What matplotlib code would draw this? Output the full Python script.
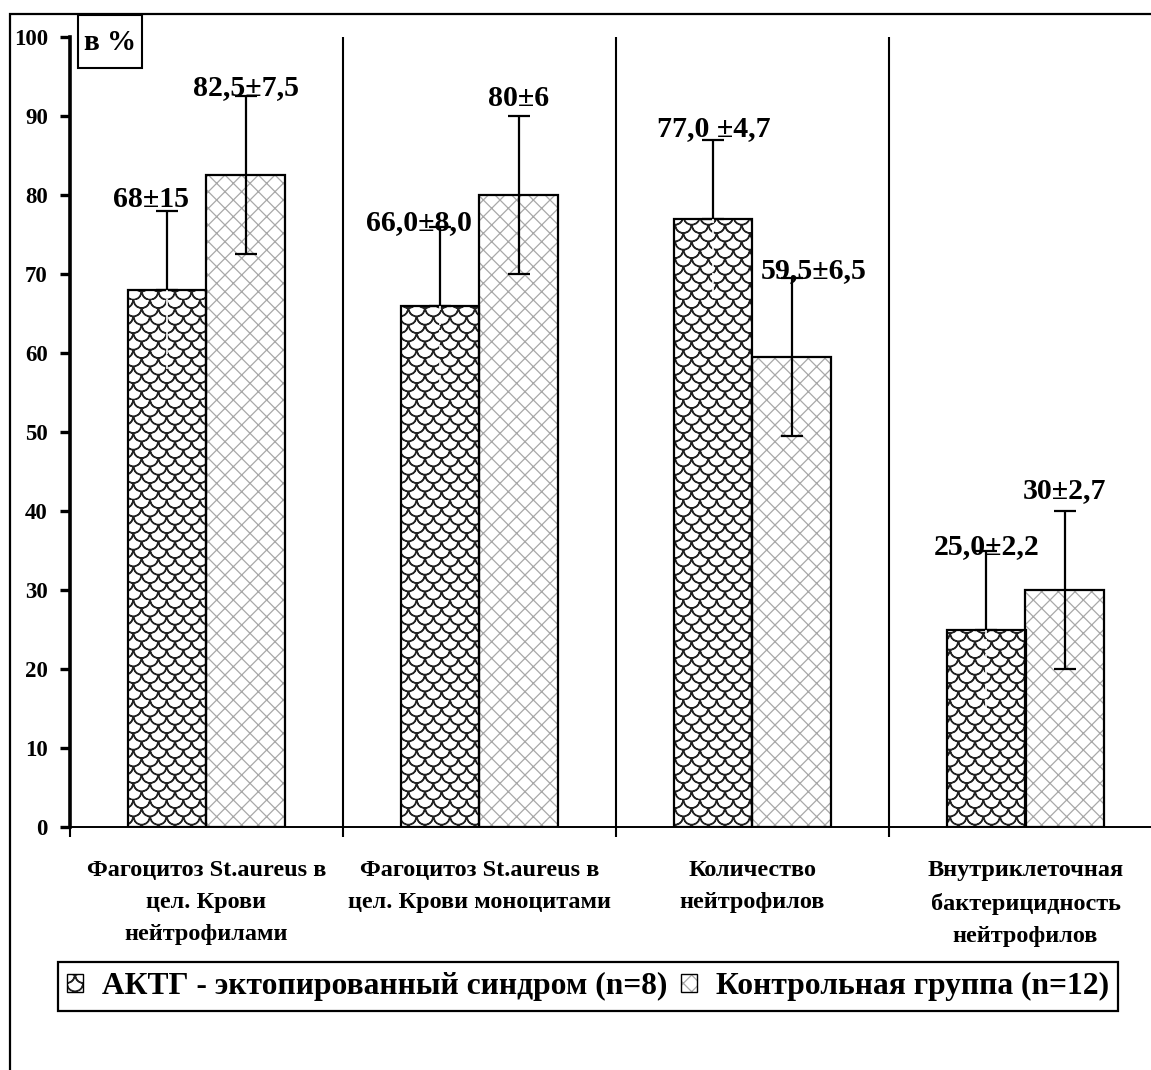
"""Phagocytosis / bactericidity bars: ACTH-ectopic syndrome vs control, values ± error."""
import warnings

import numpy as np
import matplotlib
matplotlib.use("Agg")
import matplotlib.pyplot as plt
from matplotlib import hatch as mhatch
from matplotlib.path import Path
from matplotlib.patches import Patch, Rectangle
from matplotlib.legend_handler import HandlerTuple

warnings.filterwarnings("ignore")

categories = [
    "Фагоцитоз St.aureus в\nцел. Крови\nнейтрофилами",
    "Фагоцитоз St.aureus в\nцел. Крови моноцитами",
    "Количество\nнейтрофилов",
    "Внутриклеточная\nбактерицидность\nнейтрофилов",
]
actg = [68.0, 66.0, 77.0, 25.0]
control = [82.5, 80.0, 59.5, 30.0]
actg_err = [10, 10, 10, 10]
control_err = [10, 10, 10, 10]
actg_labels = ["68±15", "66,0±8,0", "77,0 ±4,7", "25,0±2,2"]
control_labels = ["82,5±7,5", "80±6", "59,5±6,5", "30±2,7"]
series_names = ["АКТГ - эктопированный синдром (n=8)", "Контрольная группа (n=12)"]
yticks = list(range(0, 101, 10))

# label nudges (data units), so the texts sit where the original put them
actg_dx = [-0.06, -0.08, 0.0, 0.0]
actg_dy = [0.5, -0.4, 0.4, -0.5]
ctrl_dx = [0.0, 0.0, 0.08, 0.0]
ctrl_dy = [0.1, 1.3, 0.0, 1.6]

FONT = "Liberation Serif"
plt.rcParams["font.family"] = [FONT, "DejaVu Serif"]
plt.rcParams["font.weight"] = "bold"
plt.rcParams["hatch.linewidth"] = 0.9


class ScaleHatch(mhatch.HatchPatternBase):
    """'c' -> staggered rows of thin arcs, a stand-in for the fish-scale fill.
    Agg fills hatch paths, so each arc is a thin closed band (out on r, back on 0.93r)."""
    def __init__(self, hatch, density):
        self.n = hatch.count("c") * density
        arc = Path.arc(180, 360)
        self.arc_v, self.arc_c = arc.vertices, arc.codes
        self.k = 2 * len(self.arc_v)
        self.num_vertices = 2 * self.n * (self.n + 1) * self.k if self.n else 0

    def set_vertices_and_codes(self, vertices, codes):
        n, k, i = self.n, self.k, 0
        r = 0.5 / n
        band = np.concatenate([self.arc_v, self.arc_v[::-1] * 0.93])
        back = self.arc_c.copy(); back[0] = Path.LINETO
        bcodes = np.concatenate([self.arc_c, back])
        for row in range(2 * n):
            y = (row + 1) / (2 * n)
            shift = r if row % 2 else 0.0
            for col in range(n + 1):
                vertices[i:i + k] = band * r + (col / n + shift, y)
                codes[i:i + k] = bcodes
                i += k


mhatch._hatch_types.append(ScaleHatch)

W, H = 1151, 1070
fig = plt.figure(figsize=(W / 100, H / 100), dpi=100)
ax = fig.add_axes([70 / W, 1 - 827 / H, (W - 70) / W, (827 - 37) / H])

x = np.arange(len(categories))
bw = 0.286
x1, x2 = x - bw / 2, x + bw / 2
GRAY = "#a8a8a8"

ax.bar(x1, actg, bw, color="white", edgecolor="#222222", hatch="c", lw=0, zorder=2)
ax.bar(x1, actg, bw, fill=False, edgecolor="black", lw=1.6, zorder=3)
ax.bar(x2, control, bw, color="white", edgecolor=GRAY, hatch="xx", lw=0, zorder=2)
ax.bar(x2, control, bw, fill=False, edgecolor="black", lw=1.6, zorder=3)

# error bars: upper whisker for the patient group, the lower one shows as a white dash
ax.errorbar(x1, actg, yerr=[np.zeros(4), actg_err], fmt="none", ecolor="black",
            elinewidth=1.6, capsize=8, capthick=1.6, zorder=4)
ax.vlines(x1, np.array(actg) - np.array(actg_err), actg, colors="white",
          linestyles=(0, (6, 3)), lw=1.2, zorder=4)
ax.errorbar(x2, control, yerr=control_err, fmt="none", ecolor="black",
            elinewidth=1.6, capsize=8, capthick=1.6, zorder=4)

for i in range(len(categories)):
    ax.text(x1[i] + actg_dx[i], actg[i] + actg_err[i] + actg_dy[i], actg_labels[i],
            ha="center", va="baseline", fontsize=21.5, fontweight="bold", zorder=5)
    ax.text(x2[i] + ctrl_dx[i], control[i] + control_err[i] + ctrl_dy[i], control_labels[i],
            ha="center", va="baseline", fontsize=21.5, fontweight="bold", zorder=5)

for b in x[:-1] + 0.5:
    ax.axvline(b, color="black", lw=1.5, zorder=1)

ax.set_xlim(-0.5, -0.5 + (W - 70) / 273)
ax.set_ylim(0, 100)
ax.set_yticks(yticks)
ax.set_yticklabels([str(v) for v in yticks], fontsize=16.5, fontweight="bold")
ax.set_xticks(np.r_[-0.5, x[:-1] + 0.5], [""] * 4)
ax.set_xticks(x, categories, minor=True)
ax.tick_params(axis="x", which="major", length=7, width=1.5, direction="out")
ax.tick_params(axis="x", which="minor", length=0, pad=24, labelsize=17.5)
for lab in ax.get_xticklabels(minor=True):
    lab.set_fontweight("bold"); lab.set_linespacing(1.68); lab.set_va("top")
ax.tick_params(axis="y", length=7, width=2.4, pad=9)
for s in ("top", "right"):
    ax.spines[s].set_visible(False)
ax.spines["left"].set_linewidth(2.6)
ax.spines["bottom"].set_linewidth(1.4)

# "в %" box in the corner
fig.add_artist(Rectangle((78 / W, 1 - 68 / H), 64 / W, 53 / H, transform=fig.transFigure,
                         fill=False, edgecolor="black", lw=1.5))
fig.text(110 / W, 1 - 43 / H, "в %", ha="center", va="center", fontsize=21, fontweight="bold")

# outer frame (only left/top edges fall inside the picture)
fig.add_artist(Rectangle((10 / W, -0.05), 1.2, 1.05 - 14 / H, transform=fig.transFigure,
                         fill=False, edgecolor="black", lw=1.6))

h1 = (Patch(facecolor="white", edgecolor="#222222", hatch="c", lw=0),
      Patch(fill=False, edgecolor="black", lw=1))
h2 = (Patch(facecolor="white", edgecolor=GRAY, hatch="xx", lw=0),
      Patch(fill=False, edgecolor="black", lw=1))
leg = fig.legend([h1, h2], series_names, loc="center", bbox_to_anchor=(588 / W, 1 - 986.5 / H),
                 ncol=2, prop={"family": FONT, "weight": "bold", "size": 22.7},
                 handlelength=0.5, handleheight=0.5, handletextpad=0.6, columnspacing=0.45,
                 borderpad=0.3, fancybox=False, framealpha=1,
                 handler_map={tuple: HandlerTuple(ndivide=1)})
leg.get_frame().set_edgecolor("black")
leg.get_frame().set_linewidth(1.6)

fig.savefig("out.png", dpi=100)
